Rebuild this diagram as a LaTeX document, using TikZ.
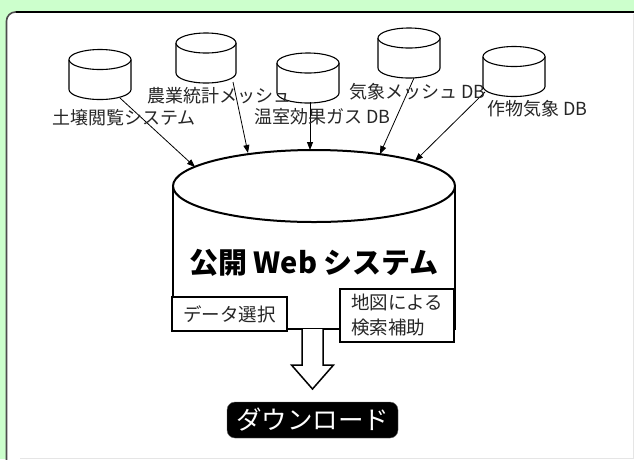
\documentclass[tikz,border=0pt]{standalone}
\usepackage{fontspec}
\setmainfont{Noto Sans CJK JP}
\usetikzlibrary{arrows.meta}
\definecolor{bggreen}{RGB}{204,255,204}
\tikzset{
  cylline/.style={draw=black, line width=1.1pt, fill=white},
  bigline/.style={draw=black, line width=2pt},
  feed/.style={draw=black, line width=0.8pt, -{Triangle[length=8pt,width=6pt]}},
  dblabel/.style={anchor=west, inner sep=0pt, text=black!85, font=\fontsize{18}{20}\selectfont},
  subbox/.style={draw=black, line width=1.8pt, fill=white, inner sep=0pt, font=\fontsize{18.5}{25}\selectfont, text=black!85},
}
\newcommand\dbcyl[4]{% name, cx, top-ellipse center y, rx
  \fill[white] ({#2-#4},{#3}) -- ({#2-#4},{#3+30}) arc[start angle=180, end angle=0, x radius=#4, y radius=10] -- ({#2+#4},{#3}) -- cycle;
  \draw[cylline, fill=none] ({#2-#4},{#3}) -- ({#2-#4},{#3+30}) arc[start angle=180, end angle=0, x radius=#4, y radius=10] -- ({#2+#4},{#3});
  \draw[cylline] (#2,#3) ellipse[x radius=#4, y radius=10];
  \node[minimum width=2*#4 pt, minimum height=50pt, inner sep=0pt] (#1) at (#2,{#3+15}) {};
}
\begin{document}
\begin{tikzpicture}[x=1pt,y=-1pt]
\useasboundingbox (0,0) rectangle (634,459);
% background
\fill[bggreen] (0,0) rectangle (634,459);
\fill[white, rounded corners=9pt] (6.5,12) rectangle (640,470);
\draw[black!10, line width=0.8pt] (633,14) -- (633,458) -- (20,458);
\draw[black!70, line width=1.6pt, rounded corners=9pt] (6.5,470) -- (6.5,12) -- (640,12);
\draw[black, line width=1.3pt] (16,12) -- (640,12);

% small databases
\dbcyl{c1}{100}{59.5}{31}
\dbcyl{c2}{206}{43}{30}
\dbcyl{c3}{308}{63}{31}
\dbcyl{c4}{409}{38}{31}
\dbcyl{c5}{514}{56.5}{31}

% big system cylinder
\fill[white] (173,186) rectangle (455,329);
\draw[bigline] (173,186) -- (173,329) -- (455,329) -- (455,186);
\draw[bigline, fill=white] (314,186) ellipse[x radius=141, y radius=36];
\node[font=\bfseries\fontsize{29}{32}\selectfont, inner sep=0pt] (sys) at (314,263) {公開 Web システム};

% arrow start / end points
\coordinate (s1) at (120,98);
\coordinate (s2) at (233,82);
\coordinate (s3) at (310,102);
\coordinate (s4) at (414,78);
\coordinate (s5) at (485,92);
\coordinate (e1) at (195,167);
\coordinate (e2) at (248,153);
\coordinate (e3) at (310,150);
\coordinate (e4) at (380,154);
\coordinate (e5) at (415,161);
\draw[feed] (s1) -- (e1);
\draw[feed] (s2) -- (e2);
\draw[feed] (s3) -- (e3);
\draw[feed] (s4) -- (e4);
\draw[feed] (s5) -- (e5);

% labels
\node[dblabel] (l1) at (52,118) {土壌閲覧システム};
\node[dblabel] (l2) at (147,96) {農業統計メッシュ};
\node[dblabel] (l3) at (254,117) {温室効果ガス DB};
\node[dblabel] (l4) at (349,92) {気象メッシュ DB};
\node[dblabel] (l5) at (487,109) {作物気象 DB};

% sub boxes
\node[subbox, minimum width=115pt, minimum height=34pt] (sel) at (229.5,314) {データ選択};
\node[subbox, minimum width=114pt, minimum height=53pt, align=left] (map) at (397,315.5) {地図による\\検索補助};

% download arrow
\coordinate (a1) at (302,329);
\coordinate (a2) at (323,329);
\draw[black, line width=1.5pt, fill=white, line join=miter] (a1) -- (302,365) -- (291.5,365) -- (312.5,389) -- (333.5,365) -- (323,365) -- (a2);

\node[fill=black, draw=black!60, rounded corners=8pt, minimum width=171pt, minimum height=36pt, inner sep=0pt, text=white, font=\fontsize{25.5}{28}\selectfont] (dl) at (312.5,420) {ダウンロード};
\end{tikzpicture}
\end{document}
